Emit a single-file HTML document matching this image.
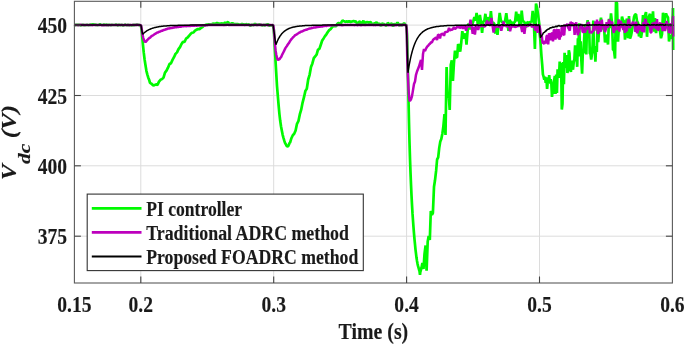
<!DOCTYPE html>
<html><head><meta charset="utf-8"><title>Vdc response</title>
<style>html,body{margin:0;padding:0;background:#fff;overflow:hidden}svg{display:block}text{stroke:#1a1a1a;stroke-width:0.15px}</style></head>
<body>
<svg width="685" height="345" viewBox="0 0 685 345" font-family="'Liberation Serif', serif" font-weight="bold" fill="#1a1a1a">
<rect x="0" y="0" width="685" height="345" fill="#fff"/>
<line x1="140.8" y1="1.3" x2="140.8" y2="283.0" stroke="#dcdcdc" stroke-width="1"/>
<line x1="273.7" y1="1.3" x2="273.7" y2="283.0" stroke="#dcdcdc" stroke-width="1"/>
<line x1="406.6" y1="1.3" x2="406.6" y2="283.0" stroke="#dcdcdc" stroke-width="1"/>
<line x1="539.5" y1="1.3" x2="539.5" y2="283.0" stroke="#dcdcdc" stroke-width="1"/>
<line x1="74.4" y1="25.1" x2="672.4" y2="25.1" stroke="#dcdcdc" stroke-width="1"/>
<line x1="74.4" y1="95.5" x2="672.4" y2="95.5" stroke="#dcdcdc" stroke-width="1"/>
<line x1="74.4" y1="165.8" x2="672.4" y2="165.8" stroke="#dcdcdc" stroke-width="1"/>
<line x1="74.4" y1="236.2" x2="672.4" y2="236.2" stroke="#dcdcdc" stroke-width="1"/>
<path d="M74.0,25.0 L75.0,25.1 L76.0,24.9 L77.0,24.7 L78.0,24.9 L79.0,24.7 L80.0,25.0 L81.0,25.4 L82.0,24.9 L83.0,24.8 L84.0,25.1 L85.0,25.1 L86.0,25.0 L87.0,24.7 L88.0,25.0 L89.0,25.2 L90.0,24.6 L91.0,24.9 L92.0,24.4 L93.0,24.6 L94.0,24.4 L95.0,24.9 L96.0,24.6 L97.0,25.1 L98.0,25.0 L99.0,24.9 L100.0,24.2 L101.0,24.8 L102.0,25.0 L103.0,25.0 L104.0,24.5 L105.0,24.9 L106.0,24.7 L107.0,24.8 L108.0,25.3 L109.0,24.8 L110.0,25.0 L111.0,25.3 L112.0,24.8 L113.0,25.0 L114.0,25.0 L115.0,25.0 L116.0,24.6 L117.0,25.0 L118.0,25.4 L119.0,24.5 L120.0,25.3 L121.0,25.0 L122.0,24.8 L123.0,25.6 L124.0,25.2 L125.0,24.6 L126.0,25.0 L127.0,25.2 L128.0,24.9 L129.0,25.2 L130.0,25.0 L131.0,25.2 L132.0,25.4 L133.0,24.8 L134.0,25.1 L135.0,24.9 L136.0,25.0 L137.0,24.6 L138.0,24.8 L139.0,24.9 L140.0,25.3 L141.0,25.8 L141.9,33.2 L142.8,43.1 L143.7,52.2 L144.6,59.5 L145.5,65.2 L146.4,70.8 L147.3,74.3 L148.2,77.4 L149.1,79.7 L150.0,82.9 L151.5,83.7 L153.0,85.4 L154.5,85.1 L156.0,84.4 L157.5,84.9 L159.0,81.6 L160.5,79.8 L162.0,79.1 L163.5,77.6 L165.0,72.6 L166.5,70.7 L168.0,67.7 L169.5,64.0 L171.0,63.2 L172.5,59.9 L174.0,57.2 L175.5,53.9 L177.0,52.4 L178.5,49.1 L180.0,47.1 L181.5,44.0 L183.0,41.9 L184.5,42.0 L186.0,38.7 L187.5,37.7 L189.0,35.8 L190.5,34.1 L192.0,32.8 L193.5,32.5 L195.0,30.6 L196.5,29.8 L198.0,29.0 L199.5,29.1 L201.0,27.9 L202.5,27.0 L204.0,25.6 L205.0,25.3 L206.0,24.8 L207.0,24.6 L208.0,24.9 L209.0,24.2 L210.0,24.5 L211.0,24.3 L212.0,25.0 L213.0,23.2 L214.0,24.2 L215.0,23.7 L216.0,23.7 L217.0,22.9 L218.0,23.3 L219.0,23.9 L220.0,23.5 L221.0,23.5 L222.0,23.4 L223.0,24.1 L224.0,23.5 L225.0,22.5 L226.0,23.3 L227.0,22.6 L228.0,22.0 L229.0,23.5 L230.0,24.4 L231.0,23.8 L232.0,23.3 L233.0,23.4 L234.0,24.5 L235.0,24.1 L236.0,24.1 L237.0,24.1 L238.0,24.2 L239.0,24.6 L240.0,24.6 L241.0,24.5 L242.0,23.9 L243.0,24.7 L244.0,24.2 L245.0,25.2 L246.0,24.0 L247.0,24.6 L248.0,24.7 L249.0,24.1 L250.0,25.7 L251.0,25.5 L252.0,24.6 L253.0,25.2 L254.0,25.0 L255.0,23.5 L256.0,25.0 L257.0,24.8 L258.0,24.9 L259.0,24.3 L260.0,24.7 L261.0,24.8 L262.0,25.5 L263.0,25.0 L264.0,24.9 L265.0,25.6 L266.0,24.6 L267.0,24.7 L268.0,24.0 L269.0,25.7 L270.0,25.4 L271.0,25.4 L272.0,25.3 L273.0,25.1 L273.8,29.5 L274.6,44.4 L275.4,58.8 L276.2,72.7 L277.0,86.0 L277.8,95.7 L278.6,105.1 L279.4,113.8 L280.2,120.8 L281.0,126.3 L281.8,130.5 L282.6,134.6 L283.4,137.6 L284.2,140.4 L285.0,142.9 L285.8,144.2 L286.6,145.8 L287.4,146.5 L288.2,146.1 L289.0,144.5 L289.8,142.6 L290.0,142.8 L291.4,138.2 L292.8,135.2 L294.2,133.8 L295.6,130.5 L297.0,123.8 L298.4,121.2 L299.8,114.4 L301.2,109.7 L302.6,102.6 L304.0,97.2 L305.4,90.9 L306.8,88.7 L308.2,79.5 L309.6,74.8 L311.0,66.9 L312.4,63.4 L313.8,58.1 L315.2,56.3 L316.6,54.7 L318.0,49.7 L319.4,48.9 L320.8,44.7 L322.2,40.5 L323.6,38.4 L325.0,36.1 L326.4,34.3 L327.8,32.0 L329.2,30.1 L330.6,29.2 L332.0,27.3 L333.4,25.9 L334.8,26.2 L336.2,26.2 L337.0,24.3 L338.1,23.2 L339.2,23.2 L340.3,25.3 L341.4,22.2 L342.5,20.6 L343.6,21.1 L344.7,21.5 L345.8,22.0 L346.9,21.2 L348.0,22.2 L349.1,20.7 L350.2,22.3 L351.3,21.7 L352.4,21.5 L353.5,21.1 L354.6,21.6 L355.7,21.3 L356.8,23.1 L357.9,25.5 L359.0,21.8 L360.1,21.5 L361.2,24.3 L362.3,23.8 L363.4,20.5 L364.5,25.6 L365.6,22.1 L366.7,22.4 L367.8,22.2 L368.9,23.0 L370.0,22.1 L371.1,22.6 L372.2,24.6 L373.3,24.2 L374.4,23.3 L375.5,23.0 L376.6,22.3 L377.7,23.6 L378.8,23.9 L379.9,23.9 L381.0,26.0 L382.1,23.2 L383.2,24.1 L384.3,24.1 L385.4,25.2 L386.5,25.7 L387.6,22.9 L388.7,23.6 L389.8,24.2 L390.9,23.8 L392.0,23.7 L393.1,26.5 L394.2,23.5 L395.3,24.8 L396.4,24.3 L397.5,22.5 L398.6,24.3 L399.7,26.0 L400.8,23.8 L401.9,25.8 L403.0,24.3 L404.1,23.0 L405.2,24.9 L406.0,25.1 L406.5,25.7 L407.0,34.5 L407.5,53.5 L408.0,77.1 L408.5,99.6 L409.0,122.6 L409.5,142.3 L410.0,158.6 L410.5,172.4 L411.0,184.4 L411.5,195.4 L412.0,204.9 L412.5,213.4 L413.0,220.5 L413.5,227.4 L414.0,233.6 L414.5,239.3 L415.0,244.3 L415.5,249.6 L416.0,253.6 L416.5,257.8 L417.0,260.9 L417.5,263.6 L418.0,265.9 L418.5,267.6 L419.0,269.5 L419.5,271.1 L420.0,274.9 L420.3,272.0 L421.4,268.2 L422.4,263.0 L423.5,268.9 L424.5,254.2 L425.6,245.5 L426.6,270.6 L427.7,241.5 L428.7,236.0 L429.8,240.0 L430.8,211.0 L431.9,214.8 L432.9,213.0 L434.0,186.8 L435.0,180.3 L436.1,170.9 L437.1,159.5 L438.2,157.4 L439.2,148.1 L440.3,141.4 L441.3,138.9 L442.4,133.4 L443.4,126.1 L444.5,114.1 L445.5,135.0 L446.6,67.0 L447.6,98.3 L448.7,94.3 L449.7,110.0 L450.8,64.7 L451.8,60.2 L452.9,81.0 L453.9,63.7 L455.0,50.5 L456.0,57.2 L457.1,57.5 L458.1,44.0 L459.2,47.0 L460.2,51.6 L461.3,42.0 L462.3,31.2 L463.4,37.4 L464.4,38.3 L465.5,33.3 L466.5,44.7 L467.6,30.9 L468.6,23.4 L469.7,29.6 L470.0,27.0 L471.1,23.8 L472.2,24.2 L473.3,21.2 L474.4,17.2 L475.5,20.7 L476.6,12.9 L477.7,23.5 L478.8,23.4 L479.9,15.0 L481.0,22.5 L482.1,32.9 L483.2,21.5 L484.3,21.2 L485.4,13.8 L486.5,23.3 L487.6,17.3 L488.7,19.4 L489.8,23.7 L490.9,11.0 L492.0,23.1 L493.1,22.7 L494.2,23.5 L495.3,33.7 L496.4,24.5 L497.5,34.8 L498.6,23.1 L499.7,12.9 L500.8,20.2 L501.9,22.2 L503.0,22.1 L504.1,22.8 L505.2,20.3 L506.3,13.1 L507.4,22.7 L508.5,30.8 L509.6,19.8 L510.7,22.1 L511.8,22.4 L512.9,25.7 L514.0,22.7 L515.1,21.5 L516.2,11.7 L517.3,21.4 L518.4,14.0 L519.5,24.2 L520.6,26.7 L521.7,10.6 L522.8,21.9 L523.9,21.3 L525.0,23.9 L526.1,27.4 L527.2,22.0 L528.3,22.7 L529.4,25.6 L530.5,21.3 L531.6,22.1 L532.7,10.9 L533.8,20.6 L534.9,49.0 L536.0,3.5 L537.1,8.0 L538.2,15.6 L539.3,24.1 L539.4,31.5 L540.1,37.2 L540.8,46.4 L541.5,56.7 L542.2,64.6 L542.9,74.4 L543.6,76.6 L544.3,79.7 L545.0,76.6 L545.7,82.8 L546.4,77.4 L547.1,89.0 L547.8,81.0 L548.5,83.6 L549.2,75.2 L549.9,83.4 L550.6,79.2 L551.3,82.4 L552.0,97.0 L552.7,88.8 L553.4,93.7 L554.1,81.0 L554.8,76.0 L555.5,94.0 L556.2,74.6 L556.9,93.0 L557.6,69.3 L558.3,74.1 L559.0,77.7 L559.7,61.6 L560.4,66.7 L561.1,63.0 L561.8,109.6 L562.5,103.9 L563.2,61.9 L563.9,84.3 L564.6,52.8 L565.3,67.8 L566.0,59.7 L566.7,55.1 L567.4,72.9 L568.1,69.1 L568.8,50.2 L569.5,53.3 L570.2,67.8 L570.9,71.9 L571.6,60.5 L572.3,67.3 L573.0,69.6 L573.7,62.4 L574.4,59.1 L575.1,45.3 L575.8,47.5 L576.5,56.1 L577.2,66.8 L577.9,38.3 L578.6,41.5 L579.3,23.4 L580.0,56.5 L580.7,41.2 L581.4,61.1 L582.1,73.7 L582.8,52.9 L583.5,53.1 L584.2,38.9 L584.9,24.3 L585.6,34.8 L586.3,54.4 L587.0,24.3 L587.7,20.1 L588.4,36.8 L589.1,26.2 L589.8,53.4 L590.5,53.8 L591.2,59.5 L591.9,54.6 L592.6,44.8 L593.3,20.6 L594.0,53.3 L594.7,48.3 L595.4,61.7 L596.1,46.0 L596.8,52.0 L597.5,22.8 L598.2,42.1 L598.9,33.2 L599.6,24.3 L600.0,23.8 L601.0,17.6 L602.0,29.6 L603.0,24.7 L604.0,26.3 L605.0,42.5 L606.0,35.9 L607.0,35.3 L608.0,44.5 L609.0,18.9 L610.0,28.2 L611.0,13.4 L612.0,22.9 L613.0,49.9 L614.0,50.0 L615.0,58.5 L616.0,2.0 L617.0,3.0 L618.0,41.7 L619.0,24.3 L620.0,21.2 L621.0,27.3 L622.0,16.7 L623.0,20.5 L624.0,20.7 L625.0,39.7 L626.0,21.8 L627.0,18.7 L628.0,38.2 L629.0,16.1 L630.0,38.6 L631.0,35.8 L632.0,30.7 L633.0,23.9 L634.0,17.1 L635.0,14.5 L636.0,14.3 L637.0,21.2 L638.0,22.9 L639.0,36.5 L640.0,27.1 L641.0,37.8 L642.0,31.8 L643.0,15.0 L644.0,27.6 L645.0,15.4 L646.0,12.1 L647.0,36.8 L648.0,20.6 L649.0,16.2 L650.0,13.8 L651.0,30.1 L652.0,24.5 L653.0,11.3 L654.0,31.6 L655.0,18.2 L656.0,33.1 L657.0,25.5 L658.0,27.1 L659.0,24.4 L660.0,30.7 L661.0,38.3 L662.0,34.2 L663.0,12.7 L664.0,25.7 L665.0,17.3 L666.0,13.4 L667.0,16.1 L668.0,17.6 L669.0,41.5 L670.0,35.1 L671.0,39.0 L672.0,34.0 L673.0,8.0 L673.2,50.0" fill="none" stroke="#00fa00" stroke-width="2.7" stroke-linejoin="bevel" stroke-linecap="butt"/>
<path d="M74.0,24.8 L74.7,24.9 L75.4,25.1 L76.1,25.0 L76.8,25.1 L77.5,25.0 L78.2,25.3 L78.9,24.9 L79.6,25.0 L80.3,24.8 L81.0,24.8 L81.7,25.2 L82.4,24.9 L83.1,25.1 L83.8,25.0 L84.5,24.9 L85.2,25.0 L85.9,24.9 L86.6,24.9 L87.3,25.1 L88.0,25.1 L88.7,24.9 L89.4,24.9 L90.1,25.0 L90.8,25.0 L91.5,25.1 L92.2,25.3 L92.9,25.1 L93.6,25.0 L94.3,25.0 L95.0,24.9 L95.7,24.9 L96.4,24.9 L97.1,25.0 L97.8,24.9 L98.5,25.1 L99.2,25.0 L99.9,25.0 L100.6,24.9 L101.3,25.2 L102.0,25.1 L102.7,25.2 L103.4,25.1 L104.1,25.2 L104.8,25.0 L105.5,25.1 L106.2,25.3 L106.9,24.9 L107.6,25.1 L108.3,25.2 L109.0,25.1 L109.7,25.1 L110.4,25.2 L111.1,24.9 L111.8,25.1 L112.5,24.9 L113.2,24.9 L113.9,24.9 L114.6,25.0 L115.3,25.0 L116.0,25.1 L116.7,24.8 L117.4,25.2 L118.1,25.1 L118.8,25.1 L119.5,25.0 L120.2,25.0 L120.9,25.1 L121.6,25.1 L122.3,24.8 L123.0,25.1 L123.7,25.4 L124.4,24.8 L125.1,25.1 L125.8,25.0 L126.5,25.0 L127.2,25.2 L127.9,24.9 L128.6,25.0 L129.3,25.2 L130.0,25.0 L130.7,24.9 L131.4,25.0 L132.1,24.9 L132.8,25.2 L133.5,24.9 L134.2,25.1 L134.9,24.8 L135.6,25.1 L136.3,25.0 L137.0,24.7 L137.7,25.0 L138.4,24.9 L139.1,24.9 L139.8,25.2 L140.5,24.9 L141.2,25.8 L141.9,30.3 L142.6,35.1 L143.3,38.1 L144.0,40.0 L144.7,41.3 L145.4,42.0 L146.1,41.6 L146.8,40.6 L147.5,39.8 L148.2,39.1 L148.9,38.4 L149.6,37.8 L150.3,37.5 L151.0,36.7 L151.7,36.0 L152.4,35.6 L153.1,35.3 L153.8,34.8 L154.5,34.3 L155.2,33.8 L155.9,33.4 L156.6,32.9 L157.3,32.5 L158.0,32.4 L158.7,31.9 L159.4,31.7 L160.1,31.5 L160.8,31.2 L161.5,30.8 L162.2,30.8 L162.9,30.4 L163.6,30.0 L164.3,29.9 L165.0,29.7 L165.7,29.3 L166.4,29.2 L167.1,29.0 L167.8,28.6 L168.5,28.6 L169.2,28.4 L169.9,28.3 L170.6,28.0 L171.3,28.0 L172.0,27.9 L172.7,27.8 L173.4,27.5 L174.1,27.6 L174.8,27.2 L175.5,27.3 L176.2,27.3 L176.9,27.0 L177.6,26.9 L178.3,27.0 L179.0,26.8 L179.7,26.7 L180.4,26.7 L181.1,26.7 L181.8,26.2 L182.5,26.3 L183.2,26.2 L183.9,26.2 L184.6,26.1 L185.3,26.1 L186.0,26.2 L186.7,26.0 L187.4,26.0 L188.1,26.0 L188.8,25.9 L189.5,25.9 L190.2,26.1 L190.9,25.9 L191.6,25.7 L192.3,25.7 L193.0,25.6 L193.7,25.7 L194.4,25.8 L195.1,25.5 L195.8,25.6 L196.5,25.7 L197.2,25.5 L197.9,25.5 L198.6,25.4 L199.3,25.4 L200.0,25.4 L200.7,25.7 L201.4,25.4 L202.1,25.3 L202.8,25.3 L203.5,25.3 L204.2,25.4 L204.9,25.3 L205.6,25.5 L206.3,25.2 L207.0,25.3 L207.7,25.1 L208.4,25.1 L209.1,24.8 L209.8,25.0 L210.5,25.0 L211.2,25.0 L211.9,24.7 L212.6,25.1 L213.3,25.0 L214.0,24.9 L214.7,25.0 L215.4,25.0 L216.1,25.0 L216.8,24.8 L217.5,24.9 L218.2,25.0 L218.9,25.0 L219.6,25.0 L220.3,24.9 L221.0,24.9 L221.7,25.0 L222.4,25.1 L223.1,24.9 L223.8,25.2 L224.5,25.1 L225.2,24.9 L225.9,25.1 L226.6,24.8 L227.3,24.8 L228.0,24.8 L228.7,25.0 L229.4,25.0 L230.1,24.9 L230.8,25.0 L231.5,24.7 L232.2,25.1 L232.9,24.8 L233.6,24.9 L234.3,25.0 L235.0,24.9 L235.7,24.8 L236.4,24.9 L237.1,25.0 L237.8,25.1 L238.5,25.1 L239.2,24.9 L239.9,24.9 L240.6,24.9 L241.3,25.1 L242.0,24.8 L242.7,25.1 L243.4,24.9 L244.1,24.9 L244.8,25.0 L245.5,25.1 L246.2,25.0 L246.9,25.1 L247.6,25.0 L248.3,25.1 L249.0,25.1 L249.7,25.0 L250.4,25.2 L251.1,25.0 L251.8,25.0 L252.5,24.9 L253.2,25.0 L253.9,25.1 L254.6,24.8 L255.3,25.1 L256.0,25.0 L256.7,25.0 L257.4,24.7 L258.1,25.0 L258.8,25.1 L259.5,24.9 L260.2,25.0 L260.9,24.7 L261.6,25.1 L262.3,24.9 L263.0,25.1 L263.7,24.8 L264.4,25.1 L265.1,25.0 L265.8,25.1 L266.5,24.9 L267.2,24.9 L267.9,25.3 L268.6,24.9 L269.3,24.9 L270.0,25.0 L270.7,24.9 L271.4,25.1 L272.1,25.2 L272.8,24.9 L273.5,26.2 L274.2,33.6 L274.9,43.8 L275.6,50.7 L276.3,54.8 L277.0,57.8 L277.7,59.7 L278.4,59.7 L279.1,59.3 L279.8,58.9 L280.5,57.7 L281.2,56.9 L281.9,55.3 L282.6,53.8 L283.3,52.5 L284.0,51.2 L284.7,49.6 L285.4,48.1 L286.1,47.1 L286.8,46.2 L287.5,45.0 L288.2,43.9 L288.9,43.1 L289.6,41.9 L290.3,40.7 L291.0,39.8 L291.7,38.8 L292.4,38.1 L293.1,37.2 L293.8,36.6 L294.5,35.9 L295.2,35.1 L295.9,34.8 L296.6,34.4 L297.3,33.9 L298.0,33.5 L298.7,33.0 L299.4,32.5 L300.1,32.4 L300.8,31.8 L301.5,31.4 L302.2,31.5 L302.9,31.0 L303.6,30.7 L304.3,30.3 L305.0,30.1 L305.7,29.8 L306.4,29.7 L307.1,29.5 L307.8,28.9 L308.5,29.1 L309.2,28.6 L309.9,28.4 L310.6,28.4 L311.3,28.2 L312.0,27.8 L312.7,28.1 L313.4,27.6 L314.1,27.6 L314.8,27.5 L315.5,27.5 L316.2,27.1 L316.9,27.2 L317.6,26.9 L318.3,27.0 L319.0,26.6 L319.7,26.6 L320.4,26.7 L321.1,26.4 L321.8,26.3 L322.5,26.5 L323.2,26.2 L323.9,25.9 L324.6,26.0 L325.3,25.7 L326.0,25.9 L326.7,25.9 L327.4,25.6 L328.1,25.5 L328.8,25.6 L329.5,25.5 L330.2,25.4 L330.9,25.5 L331.6,25.2 L332.3,25.3 L333.0,25.3 L333.7,25.3 L334.4,25.3 L335.1,25.1 L335.8,25.3 L336.5,25.2 L337.2,25.1 L337.9,25.0 L338.6,25.0 L339.3,25.1 L340.0,25.0 L340.7,25.1 L341.4,25.2 L342.1,25.1 L342.8,25.2 L343.5,25.0 L344.2,24.9 L344.9,25.1 L345.6,25.0 L346.3,25.1 L347.0,25.0 L347.7,25.1 L348.4,25.1 L349.1,25.1 L349.8,25.1 L350.5,25.0 L351.2,25.0 L351.9,25.0 L352.6,25.1 L353.3,24.9 L354.0,25.2 L354.7,25.0 L355.4,25.1 L356.1,25.0 L356.8,25.0 L357.5,25.2 L358.2,25.0 L358.9,24.8 L359.6,24.9 L360.3,25.0 L361.0,25.3 L361.7,25.0 L362.4,25.1 L363.1,24.9 L363.8,25.0 L364.5,25.1 L365.2,25.2 L365.9,24.9 L366.6,25.1 L367.3,25.0 L368.0,24.9 L368.7,25.0 L369.4,25.0 L370.1,24.7 L370.8,25.1 L371.5,25.1 L372.2,24.9 L372.9,24.8 L373.6,25.2 L374.3,25.0 L375.0,25.1 L375.7,25.2 L376.4,24.9 L377.1,25.1 L377.8,25.0 L378.5,25.0 L379.2,25.0 L379.9,25.0 L380.6,25.1 L381.3,25.0 L382.0,25.0 L382.7,25.0 L383.4,25.0 L384.1,24.9 L384.8,24.9 L385.5,25.0 L386.2,24.9 L386.9,25.0 L387.6,24.9 L388.3,25.2 L389.0,25.2 L389.7,25.1 L390.4,25.0 L391.1,25.3 L391.8,25.0 L392.5,25.0 L393.2,25.0 L393.9,25.0 L394.6,25.2 L395.3,25.0 L396.0,25.3 L396.7,24.9 L397.4,25.1 L398.1,24.9 L398.8,25.2 L399.5,25.0 L400.2,25.0 L400.9,25.1 L401.6,25.2 L402.3,24.9 L403.0,25.0 L403.7,24.8 L404.4,25.0 L405.1,25.0 L405.8,25.0 L406.0,24.9 L406.4,25.5 L406.8,33.2 L407.2,56.2 L407.6,68.0 L408.0,77.9 L408.4,86.3 L408.8,93.2 L409.2,98.1 L409.6,100.7 L410.0,100.9 L411.0,99.3 L412.0,96.1 L413.0,90.1 L414.0,84.0 L415.0,81.5 L416.0,74.8 L417.0,71.5 L418.0,69.0 L419.0,66.5 L420.0,63.1 L421.0,60.0 L422.0,70.0 L423.0,53.9 L424.0,49.1 L425.0,51.1 L426.0,48.6 L427.0,46.8 L428.0,45.9 L429.0,44.5 L430.0,43.7 L431.0,42.3 L432.0,42.4 L433.0,39.9 L434.0,39.0 L435.0,38.3 L436.0,37.5 L437.0,39.9 L438.0,34.8 L439.0,35.0 L440.0,38.4 L441.0,33.9 L442.0,34.3 L443.0,33.4 L444.0,35.9 L445.0,32.2 L446.0,32.0 L447.0,31.8 L448.0,31.4 L449.0,27.9 L450.0,30.5 L451.0,29.6 L452.0,29.9 L453.0,28.8 L454.0,27.3 L455.0,29.0 L456.0,28.0 L457.0,26.9 L458.0,27.2 L459.0,26.5 L460.0,28.1 L461.0,27.0 L462.0,25.6 L463.0,28.8 L464.0,26.1 L465.0,26.3 L466.1,30.8 L467.2,25.7 L468.3,26.4 L469.4,26.4 L470.5,19.6 L471.6,26.0 L472.7,33.9 L473.8,26.7 L474.9,34.5 L476.0,25.8 L477.1,24.7 L478.2,30.0 L479.3,25.2 L480.4,26.4 L481.5,25.7 L482.6,25.2 L483.7,26.5 L484.8,26.4 L485.9,25.3 L487.0,20.6 L488.1,25.6 L489.2,21.8 L490.3,25.9 L491.4,18.0 L492.5,25.4 L493.6,32.6 L494.7,27.0 L495.8,27.0 L496.9,25.6 L498.0,27.1 L499.1,25.8 L500.2,26.1 L501.3,30.8 L502.4,26.0 L503.5,21.5 L504.6,26.0 L505.7,24.8 L506.8,26.8 L507.9,25.5 L509.0,25.6 L510.1,31.2 L511.2,26.6 L512.3,26.5 L513.4,26.4 L514.5,26.6 L515.6,27.2 L516.7,25.8 L517.8,26.6 L518.9,25.2 L520.0,25.5 L521.1,26.6 L522.2,32.0 L523.3,24.7 L524.4,33.8 L525.5,25.7 L526.6,25.1 L527.7,26.1 L528.8,25.5 L529.9,24.5 L531.0,24.9 L532.1,27.2 L533.2,24.6 L534.3,26.0 L535.4,30.6 L536.5,26.3 L537.6,32.8 L538.7,25.5 L539.4,25.3 L540.2,29.2 L541.0,38.1 L541.8,36.0 L542.6,43.1 L543.4,42.9 L544.2,43.9 L545.0,40.7 L545.8,43.4 L546.6,36.1 L547.4,35.6 L548.2,44.5 L549.0,33.3 L549.8,35.4 L550.6,40.4 L551.4,33.4 L552.2,33.3 L553.0,41.4 L553.8,30.0 L554.6,30.0 L555.4,39.6 L556.2,29.7 L557.0,30.1 L557.8,38.4 L558.6,29.2 L559.4,39.6 L560.2,36.4 L561.0,36.5 L561.8,26.6 L562.6,26.2 L563.4,34.2 L564.2,35.2 L565.0,25.6 L565.8,25.1 L566.6,25.5 L567.4,23.7 L568.2,27.8 L569.0,28.9 L569.8,30.7 L570.6,21.8 L571.4,23.8 L572.2,22.5 L573.0,24.7 L573.8,23.3 L574.6,34.9 L575.4,25.9 L576.2,22.3 L577.0,30.3 L577.8,35.1 L578.6,32.1 L579.4,29.7 L580.2,25.4 L581.0,25.7 L581.8,24.2 L582.6,32.0 L583.4,31.9 L584.2,26.8 L585.0,32.7 L585.8,29.3 L586.6,29.8 L587.4,23.3 L588.2,22.8 L589.0,22.6 L589.8,33.2 L590.6,31.4 L591.4,33.0 L592.2,31.7 L593.0,31.4 L593.8,25.5 L594.6,30.7 L595.4,21.4 L596.2,28.9 L597.0,19.5 L597.8,33.8 L598.6,32.4 L599.4,21.4 L600.2,30.5 L601.0,31.3 L601.8,19.7 L602.6,27.2 L603.4,25.1 L604.2,28.0 L605.0,32.1 L605.8,29.5 L606.6,22.2 L607.4,26.9 L608.2,27.0 L609.0,19.6 L609.8,21.2 L610.6,24.2 L611.4,21.8 L612.2,22.6 L613.0,28.7 L613.8,32.9 L614.6,25.5 L615.4,28.2 L616.2,29.9 L617.0,28.6 L617.8,28.4 L618.6,19.4 L619.4,31.6 L620.2,21.5 L621.0,21.8 L621.8,26.1 L622.6,27.3 L623.4,29.9 L624.2,23.3 L625.0,32.8 L625.8,28.0 L626.6,31.3 L627.4,25.7 L628.2,20.3 L629.0,19.5 L629.8,28.1 L630.6,25.0 L631.4,25.2 L632.2,23.7 L633.0,21.7 L633.8,25.6 L634.6,22.7 L635.4,32.0 L636.2,21.7 L637.0,33.2 L637.8,31.6 L638.6,24.4 L639.4,30.2 L640.2,27.2 L641.0,25.5 L641.8,30.8 L642.6,31.1 L643.4,22.0 L644.2,32.3 L645.0,19.7 L645.8,19.3 L646.6,25.8 L647.4,23.3 L648.2,24.9 L649.0,25.7 L649.8,25.6 L650.6,32.4 L651.4,32.5 L652.2,23.9 L653.0,23.1 L653.8,28.4 L654.6,21.9 L655.4,24.6 L656.2,29.4 L657.0,19.2 L657.8,30.3 L658.6,29.7 L659.4,24.4 L660.2,22.5 L661.0,26.6 L661.8,23.2 L662.6,31.1 L663.4,27.4 L664.2,23.3 L665.0,30.9 L665.8,27.7 L666.6,20.9 L667.4,24.8 L668.2,25.9 L669.0,33.1 L669.8,23.5 L670.6,25.3 L671.4,33.6 L672.2,25.0 L673.0,16.0 L673.2,36.5" fill="none" stroke="#bd00bd" stroke-width="2.5" stroke-linejoin="bevel"/>
<path d="M74.0,25.0 L74.5,25.0 L75.0,25.0 L75.5,25.0 L76.0,25.0 L76.5,25.0 L77.0,25.0 L77.5,25.0 L78.0,25.0 L78.5,25.0 L79.0,25.0 L79.5,25.0 L80.0,25.0 L80.5,25.0 L81.0,25.0 L81.5,25.0 L82.0,25.0 L82.5,25.0 L83.0,25.0 L83.5,25.0 L84.0,25.0 L84.5,25.0 L85.0,25.0 L85.5,25.0 L86.0,25.0 L86.5,25.0 L87.0,25.0 L87.5,25.0 L88.0,25.0 L88.5,25.0 L89.0,25.0 L89.5,25.0 L90.0,25.0 L90.5,25.0 L91.0,25.0 L91.5,25.0 L92.0,25.0 L92.5,25.0 L93.0,25.0 L93.5,25.0 L94.0,25.0 L94.5,25.0 L95.0,25.0 L95.5,25.0 L96.0,25.0 L96.5,25.0 L97.0,25.0 L97.5,25.0 L98.0,25.0 L98.5,25.0 L99.0,25.0 L99.5,25.0 L100.0,25.0 L100.5,25.0 L101.0,25.0 L101.5,25.0 L102.0,25.0 L102.5,25.0 L103.0,25.0 L103.5,25.0 L104.0,25.0 L104.5,25.0 L105.0,25.0 L105.5,25.0 L106.0,25.0 L106.5,25.0 L107.0,25.0 L107.5,25.0 L108.0,25.0 L108.5,25.0 L109.0,25.0 L109.5,25.0 L110.0,25.0 L110.5,25.0 L111.0,25.0 L111.5,25.0 L112.0,25.0 L112.5,25.0 L113.0,25.0 L113.5,25.0 L114.0,25.0 L114.5,25.0 L115.0,25.0 L115.5,25.0 L116.0,25.0 L116.5,25.0 L117.0,25.0 L117.5,25.0 L118.0,25.0 L118.5,25.0 L119.0,25.0 L119.5,25.0 L120.0,25.0 L120.5,25.0 L121.0,25.0 L121.5,25.0 L122.0,25.0 L122.5,25.0 L123.0,25.0 L123.5,25.0 L124.0,25.0 L124.5,25.0 L125.0,25.0 L125.5,25.0 L126.0,25.0 L126.5,25.0 L127.0,25.0 L127.5,25.0 L128.0,25.0 L128.5,25.0 L129.0,25.0 L129.5,25.0 L130.0,25.0 L130.5,25.0 L131.0,25.0 L131.5,25.0 L132.0,25.0 L132.5,25.0 L133.0,25.0 L133.5,25.0 L134.0,25.0 L134.5,25.0 L135.0,25.0 L135.5,25.0 L136.0,25.0 L136.5,25.0 L137.0,25.0 L137.5,25.0 L138.0,25.0 L138.5,25.0 L139.0,25.0 L139.5,25.0 L140.0,25.0 L140.5,25.0 L141.0,25.5 L141.5,28.3 L142.0,31.0 L142.5,33.8 L143.0,33.9 L143.5,33.4 L144.0,33.0 L144.5,32.5 L145.0,32.1 L145.5,31.8 L146.0,31.4 L146.5,31.1 L147.0,30.7 L147.5,30.4 L148.0,30.2 L148.5,29.9 L149.0,29.6 L149.5,29.4 L150.0,29.2 L150.5,29.0 L151.0,28.8 L151.5,28.6 L152.0,28.4 L152.5,28.2 L153.0,28.1 L153.5,27.9 L154.0,27.8 L154.5,27.6 L155.0,27.5 L155.5,27.4 L156.0,27.3 L156.5,27.2 L157.0,27.1 L157.5,27.0 L158.0,26.9 L158.5,26.8 L159.0,26.7 L159.5,26.6 L160.0,26.5 L160.5,26.5 L161.0,26.4 L161.5,26.3 L162.0,26.3 L162.5,26.2 L163.0,26.2 L163.5,26.1 L164.0,26.1 L164.5,26.0 L165.0,26.0 L165.5,25.9 L166.0,25.9 L166.5,25.9 L167.0,25.8 L167.5,25.8 L168.0,25.8 L168.5,25.7 L169.0,25.7 L169.5,25.7 L170.0,25.6 L170.5,25.6 L171.0,25.6 L171.5,25.6 L172.0,25.5 L172.5,25.5 L173.0,25.5 L173.5,25.5 L174.0,25.5 L174.5,25.4 L175.0,25.4 L175.5,25.4 L176.0,25.4 L176.5,25.4 L177.0,25.4 L177.5,25.4 L178.0,25.3 L178.5,25.3 L179.0,25.3 L179.5,25.3 L180.0,25.3 L180.5,25.3 L181.0,25.3 L181.5,25.3 L182.0,25.3 L182.5,25.2 L183.0,25.2 L183.5,25.2 L184.0,25.2 L184.5,25.2 L185.0,25.2 L185.5,25.2 L186.0,25.2 L186.5,25.2 L187.0,25.2 L187.5,25.2 L188.0,25.2 L188.5,25.2 L189.0,25.2 L189.5,25.2 L190.0,25.1 L190.5,25.1 L191.0,25.1 L191.5,25.1 L192.0,25.1 L192.5,25.1 L193.0,25.1 L193.5,25.1 L194.0,25.1 L194.5,25.1 L195.0,25.1 L195.5,25.1 L196.0,25.1 L196.5,25.1 L197.0,25.1 L197.5,25.1 L198.0,25.1 L198.5,25.1 L199.0,25.1 L199.5,25.1 L200.0,25.1 L200.5,25.1 L201.0,25.1 L201.5,25.1 L202.0,25.1 L202.5,25.1 L203.0,25.1 L203.5,25.1 L204.0,25.1 L204.5,25.1 L205.0,25.1 L205.5,25.1 L206.0,25.1 L206.5,25.1 L207.0,25.1 L207.5,25.0 L208.0,25.0 L208.5,25.0 L209.0,25.0 L209.5,25.0 L210.0,25.0 L210.5,25.0 L211.0,25.0 L211.5,25.0 L212.0,25.0 L212.5,25.0 L213.0,25.0 L213.5,25.0 L214.0,25.0 L214.5,25.0 L215.0,25.0 L215.5,25.0 L216.0,25.0 L216.5,25.0 L217.0,25.0 L217.5,25.0 L218.0,25.0 L218.5,25.0 L219.0,25.0 L219.5,25.0 L220.0,25.0 L220.5,25.0 L221.0,25.0 L221.5,25.0 L222.0,25.0 L222.5,25.0 L223.0,25.0 L223.5,25.0 L224.0,25.0 L224.5,25.0 L225.0,25.0 L225.5,25.0 L226.0,25.0 L226.5,25.0 L227.0,25.0 L227.5,25.0 L228.0,25.0 L228.5,25.0 L229.0,25.0 L229.5,25.0 L230.0,25.0 L230.5,25.0 L231.0,25.0 L231.5,25.0 L232.0,25.0 L232.5,25.0 L233.0,25.0 L233.5,25.0 L234.0,25.0 L234.5,25.0 L235.0,25.0 L235.5,25.0 L236.0,25.0 L236.5,25.0 L237.0,25.0 L237.5,25.0 L238.0,25.0 L238.5,25.0 L239.0,25.0 L239.5,25.0 L240.0,25.0 L240.5,25.0 L241.0,25.0 L241.5,25.0 L242.0,25.0 L242.5,25.0 L243.0,25.0 L243.5,25.0 L244.0,25.0 L244.5,25.0 L245.0,25.0 L245.5,25.0 L246.0,25.0 L246.5,25.0 L247.0,25.0 L247.5,25.0 L248.0,25.0 L248.5,25.0 L249.0,25.0 L249.5,25.0 L250.0,25.0 L250.5,25.0 L251.0,25.0 L251.5,25.0 L252.0,25.0 L252.5,25.0 L253.0,25.0 L253.5,25.0 L254.0,25.0 L254.5,25.0 L255.0,25.0 L255.5,25.0 L256.0,25.0 L256.5,25.0 L257.0,25.0 L257.5,25.0 L258.0,25.0 L258.5,25.0 L259.0,25.0 L259.5,25.0 L260.0,25.0 L260.5,25.0 L261.0,25.0 L261.5,25.0 L262.0,25.0 L262.5,25.0 L263.0,25.0 L263.5,25.0 L264.0,25.0 L264.5,25.0 L265.0,25.0 L265.5,25.0 L266.0,25.0 L266.5,25.0 L267.0,25.0 L267.5,25.0 L268.0,25.0 L268.5,25.0 L269.0,25.0 L269.5,25.0 L270.0,25.0 L270.5,25.0 L271.0,25.0 L271.5,25.0 L272.0,25.0 L272.5,25.0 L273.0,25.0 L273.5,28.0 L274.0,31.7 L274.5,35.4 L275.0,39.1 L275.5,42.8 L276.0,44.4 L276.5,43.1 L277.0,41.9 L277.5,40.8 L278.0,39.7 L278.5,38.7 L279.0,37.8 L279.5,37.0 L280.0,36.2 L280.5,35.4 L281.0,34.8 L281.5,34.1 L282.0,33.5 L282.5,33.0 L283.0,32.5 L283.5,32.0 L284.0,31.6 L284.5,31.2 L285.0,30.8 L285.5,30.4 L286.0,30.1 L286.5,29.8 L287.0,29.5 L287.5,29.2 L288.0,29.0 L288.5,28.7 L289.0,28.5 L289.5,28.3 L290.0,28.1 L290.5,27.9 L291.0,27.8 L291.5,27.6 L292.0,27.5 L292.5,27.3 L293.0,27.2 L293.5,27.1 L294.0,27.0 L294.5,26.9 L295.0,26.8 L295.5,26.7 L296.0,26.6 L296.5,26.5 L297.0,26.4 L297.5,26.3 L298.0,26.3 L298.5,26.2 L299.0,26.2 L299.5,26.1 L300.0,26.0 L300.5,26.0 L301.0,25.9 L301.5,25.9 L302.0,25.9 L302.5,25.8 L303.0,25.8 L303.5,25.7 L304.0,25.7 L304.5,25.7 L305.0,25.6 L305.5,25.6 L306.0,25.6 L306.5,25.6 L307.0,25.5 L307.5,25.5 L308.0,25.5 L308.5,25.5 L309.0,25.4 L309.5,25.4 L310.0,25.4 L310.5,25.4 L311.0,25.4 L311.5,25.4 L312.0,25.3 L312.5,25.3 L313.0,25.3 L313.5,25.3 L314.0,25.3 L314.5,25.3 L315.0,25.3 L315.5,25.3 L316.0,25.2 L316.5,25.2 L317.0,25.2 L317.5,25.2 L318.0,25.2 L318.5,25.2 L319.0,25.2 L319.5,25.2 L320.0,25.2 L320.5,25.2 L321.0,25.2 L321.5,25.2 L322.0,25.2 L322.5,25.1 L323.0,25.1 L323.5,25.1 L324.0,25.1 L324.5,25.1 L325.0,25.1 L325.5,25.1 L326.0,25.1 L326.5,25.1 L327.0,25.1 L327.5,25.1 L328.0,25.1 L328.5,25.1 L329.0,25.1 L329.5,25.1 L330.0,25.1 L330.5,25.1 L331.0,25.1 L331.5,25.1 L332.0,25.1 L332.5,25.1 L333.0,25.1 L333.5,25.1 L334.0,25.1 L334.5,25.1 L335.0,25.1 L335.5,25.1 L336.0,25.1 L336.5,25.1 L337.0,25.0 L337.5,25.0 L338.0,25.0 L338.5,25.0 L339.0,25.0 L339.5,25.0 L340.0,25.0 L340.5,25.0 L341.0,25.0 L341.5,25.0 L342.0,25.0 L342.5,25.0 L343.0,25.0 L343.5,25.0 L344.0,25.0 L344.5,25.0 L345.0,25.0 L345.5,25.0 L346.0,25.0 L346.5,25.0 L347.0,25.0 L347.5,25.0 L348.0,25.0 L348.5,25.0 L349.0,25.0 L349.5,25.0 L350.0,25.0 L350.5,25.0 L351.0,25.0 L351.5,25.0 L352.0,25.0 L352.5,25.0 L353.0,25.0 L353.5,25.0 L354.0,25.0 L354.5,25.0 L355.0,25.0 L355.5,25.0 L356.0,25.0 L356.5,25.0 L357.0,25.0 L357.5,25.0 L358.0,25.0 L358.5,25.0 L359.0,25.0 L359.5,25.0 L360.0,25.0 L360.5,25.0 L361.0,25.0 L361.5,25.0 L362.0,25.0 L362.5,25.0 L363.0,25.0 L363.5,25.0 L364.0,25.0 L364.5,25.0 L365.0,25.0 L365.5,25.0 L366.0,25.0 L366.5,25.0 L367.0,25.0 L367.5,25.0 L368.0,25.0 L368.5,25.0 L369.0,25.0 L369.5,25.0 L370.0,25.0 L370.5,25.0 L371.0,25.0 L371.5,25.0 L372.0,25.0 L372.5,25.0 L373.0,25.0 L373.5,25.0 L374.0,25.0 L374.5,25.0 L375.0,25.0 L375.5,25.0 L376.0,25.0 L376.5,25.0 L377.0,25.0 L377.5,25.0 L378.0,25.0 L378.5,25.0 L379.0,25.0 L379.5,25.0 L380.0,25.0 L380.5,25.0 L381.0,25.0 L381.5,25.0 L382.0,25.0 L382.5,25.0 L383.0,25.0 L383.5,25.0 L384.0,25.0 L384.5,25.0 L385.0,25.0 L385.5,25.0 L386.0,25.0 L386.5,25.0 L387.0,25.0 L387.5,25.0 L388.0,25.0 L388.5,25.0 L389.0,25.0 L389.5,25.0 L390.0,25.0 L390.5,25.0 L391.0,25.0 L391.5,25.0 L392.0,25.0 L392.5,25.0 L393.0,25.0 L393.5,25.0 L394.0,25.0 L394.5,25.0 L395.0,25.0 L395.5,25.0 L396.0,25.0 L396.5,25.0 L397.0,25.0 L397.5,25.0 L398.0,25.0 L398.5,25.0 L399.0,25.0 L399.5,25.0 L400.0,25.0 L400.5,25.0 L401.0,25.0 L401.5,25.0 L402.0,25.0 L402.5,25.0 L403.0,25.0 L403.5,25.0 L404.0,25.0 L404.5,25.0 L405.0,25.0 L405.5,25.0 L406.0,25.0 L406.5,28.2 L407.0,44.2 L407.5,60.2 L408.0,72.3 L408.5,69.1 L409.0,66.1 L409.5,63.3 L410.0,60.8 L410.5,58.4 L411.0,56.2 L411.5,54.1 L412.0,52.2 L412.5,50.4 L413.0,48.7 L413.5,47.2 L414.0,45.8 L414.5,44.4 L415.0,43.2 L415.5,42.0 L416.0,41.0 L416.5,40.0 L417.0,39.0 L417.5,38.2 L418.0,37.4 L418.5,36.6 L419.0,35.9 L419.5,35.2 L420.0,34.6 L420.5,34.1 L421.0,33.5 L421.5,33.0 L422.0,32.6 L422.5,32.1 L423.0,31.7 L423.5,31.3 L424.0,31.0 L424.5,30.7 L425.0,30.3 L425.5,30.0 L426.0,29.8 L426.5,29.5 L427.0,29.3 L427.5,29.0 L428.0,28.8 L428.5,28.6 L429.0,28.4 L429.5,28.3 L430.0,28.1 L430.5,27.9 L431.0,27.8 L431.5,27.7 L432.0,27.5 L432.5,27.4 L433.0,27.3 L433.5,27.2 L434.0,27.1 L434.5,27.0 L435.0,26.9 L435.5,26.8 L436.0,26.7 L436.5,26.6 L437.0,26.6 L437.5,26.5 L438.0,26.4 L438.5,26.4 L439.0,26.3 L439.5,26.2 L440.0,26.2 L440.5,26.1 L441.0,26.1 L441.5,26.0 L442.0,26.0 L442.5,25.9 L443.0,25.9 L443.5,25.9 L444.0,25.8 L444.5,25.8 L445.0,25.8 L445.5,25.7 L446.0,25.7 L446.5,25.7 L447.0,25.6 L447.5,25.6 L448.0,25.6 L448.5,25.6 L449.0,25.6 L449.5,25.5 L450.0,25.5 L450.5,25.5 L451.0,25.5 L451.5,25.5 L452.0,25.4 L452.5,25.4 L453.0,25.4 L453.5,25.4 L454.0,25.4 L454.5,25.4 L455.0,25.3 L455.5,25.3 L456.0,25.3 L456.5,25.3 L457.0,25.3 L457.5,25.3 L458.0,25.3 L458.5,25.3 L459.0,25.3 L459.5,25.2 L460.0,25.2 L460.5,25.2 L461.0,25.2 L461.5,25.2 L462.0,25.2 L462.5,25.2 L463.0,25.2 L463.5,25.2 L464.0,25.2 L464.5,25.2 L465.0,25.2 L465.5,25.5 L466.0,25.3 L466.5,25.1 L467.0,24.9 L467.5,24.9 L468.0,25.0 L468.5,25.2 L469.0,25.2 L469.5,25.1 L470.0,25.1 L470.5,25.3 L471.0,25.2 L471.5,25.2 L472.0,25.2 L472.5,25.0 L473.0,24.8 L473.5,25.2 L474.0,25.2 L474.5,25.0 L475.0,25.0 L475.5,25.6 L476.0,24.9 L476.5,25.0 L477.0,25.1 L477.5,24.8 L478.0,25.1 L478.5,25.5 L479.0,25.3 L479.5,25.2 L480.0,25.2 L480.5,25.1 L481.0,25.3 L481.5,25.0 L482.0,24.9 L482.5,25.1 L483.0,25.3 L483.5,25.1 L484.0,25.2 L484.5,24.5 L485.0,25.3 L485.5,25.6 L486.0,25.4 L486.5,25.0 L487.0,24.8 L487.5,25.1 L488.0,24.8 L488.5,25.2 L489.0,24.9 L489.5,25.3 L490.0,25.4 L490.5,24.5 L491.0,25.1 L491.5,24.8 L492.0,24.7 L492.5,24.9 L493.0,25.0 L493.5,25.3 L494.0,24.6 L494.5,25.3 L495.0,25.5 L495.5,25.2 L496.0,25.2 L496.5,25.0 L497.0,24.7 L497.5,25.1 L498.0,25.1 L498.5,25.2 L499.0,25.7 L499.5,25.2 L500.0,25.1 L500.5,25.4 L501.0,24.7 L501.5,24.7 L502.0,24.9 L502.5,24.8 L503.0,25.2 L503.5,24.9 L504.0,25.4 L504.5,25.4 L505.0,25.2 L505.5,24.9 L506.0,25.2 L506.5,25.2 L507.0,24.7 L507.5,25.1 L508.0,25.2 L508.5,25.1 L509.0,25.4 L509.5,25.3 L510.0,24.8 L510.5,25.0 L511.0,24.8 L511.5,25.2 L512.0,24.8 L512.5,25.2 L513.0,25.1 L513.5,25.2 L514.0,25.0 L514.5,24.6 L515.0,25.4 L515.5,25.0 L516.0,25.3 L516.5,25.1 L517.0,25.2 L517.5,25.5 L518.0,25.1 L518.5,25.4 L519.0,24.6 L519.5,25.2 L520.0,24.9 L520.5,25.0 L521.0,25.0 L521.5,25.1 L522.0,25.4 L522.5,24.5 L523.0,25.0 L523.5,24.8 L524.0,25.3 L524.5,24.9 L525.0,25.1 L525.5,24.9 L526.0,25.2 L526.5,25.3 L527.0,24.9 L527.5,25.0 L528.0,24.6 L528.5,25.1 L529.0,25.2 L529.5,24.9 L530.0,25.3 L530.5,24.5 L531.0,24.5 L531.5,24.7 L532.0,24.9 L532.5,25.0 L533.0,25.0 L533.5,25.0 L534.0,25.2 L534.5,24.9 L535.0,24.7 L535.5,24.7 L536.0,25.5 L536.5,24.4 L537.0,25.0 L537.5,25.4 L538.0,25.1 L538.5,24.8 L539.0,25.0 L539.5,26.5 L540.0,32.9 L540.5,37.3 L541.0,36.8 L541.5,35.9 L542.0,35.3 L542.5,34.7 L543.0,33.6 L543.5,32.7 L544.0,32.6 L544.5,32.4 L545.0,31.7 L545.5,31.1 L546.0,31.3 L546.5,30.0 L547.0,30.1 L547.5,29.5 L548.0,29.3 L548.5,29.0 L549.0,29.1 L549.5,28.3 L550.0,28.1 L550.5,27.7 L551.0,28.0 L551.5,27.6 L552.0,27.6 L552.5,27.1 L553.0,27.1 L553.5,27.3 L554.0,26.9 L554.5,27.0 L555.0,26.9 L555.5,26.5 L556.0,26.1 L556.5,26.7 L557.0,26.4 L557.5,26.5 L558.0,25.7 L558.5,25.7 L559.0,25.5 L559.5,25.8 L560.0,26.2 L560.5,26.1 L561.0,25.9 L561.5,25.8 L562.0,26.0 L562.5,25.7 L563.0,25.8 L563.5,25.7 L564.0,25.1 L564.5,25.5 L565.0,25.9 L565.5,25.4 L566.0,25.5 L566.5,25.3 L567.0,25.3 L567.5,25.7 L568.0,25.3 L568.5,25.1 L569.0,24.6 L569.5,25.2 L570.0,24.9 L570.5,24.9 L571.0,25.5 L571.5,25.5 L572.0,24.8 L572.5,25.5 L573.0,25.4 L573.5,25.1 L574.0,25.4 L574.5,24.8 L575.0,24.9 L575.5,24.8 L576.0,24.9 L576.5,25.4 L577.0,24.8 L577.5,24.9 L578.0,24.9 L578.5,25.2 L579.0,25.1 L579.5,25.4 L580.0,25.0 L580.5,24.8 L581.0,25.0 L581.5,25.1 L582.0,24.9 L582.5,25.2 L583.0,25.6 L583.5,25.0 L584.0,25.1 L584.5,25.4 L585.0,24.9 L585.5,24.9 L586.0,24.8 L586.5,25.2 L587.0,25.2 L587.5,25.0 L588.0,25.1 L588.5,25.4 L589.0,25.3 L589.5,24.7 L590.0,25.1 L590.5,25.1 L591.0,25.2 L591.5,25.0 L592.0,24.9 L592.5,24.9 L593.0,24.6 L593.5,25.0 L594.0,24.9 L594.5,25.2 L595.0,24.8 L595.5,24.9 L596.0,24.8 L596.5,24.8 L597.0,25.2 L597.5,24.9 L598.0,25.1 L598.5,24.7 L599.0,25.0 L599.5,24.6 L600.0,24.9 L600.5,24.9 L601.0,25.2 L601.5,25.1 L602.0,25.0 L602.5,25.2 L603.0,25.1 L603.5,25.1 L604.0,25.2 L604.5,25.0 L605.0,24.9 L605.5,25.1 L606.0,24.9 L606.5,25.1 L607.0,25.3 L607.5,25.2 L608.0,24.9 L608.5,24.7 L609.0,25.0 L609.5,25.0 L610.0,25.3 L610.5,24.9 L611.0,24.9 L611.5,25.2 L612.0,24.9 L612.5,25.0 L613.0,25.4 L613.5,25.4 L614.0,25.2 L614.5,25.1 L615.0,24.8 L615.5,25.1 L616.0,25.0 L616.5,25.1 L617.0,24.9 L617.5,25.0 L618.0,24.9 L618.5,25.1 L619.0,25.4 L619.5,25.1 L620.0,24.6 L620.5,24.8 L621.0,24.6 L621.5,24.8 L622.0,25.1 L622.5,25.1 L623.0,24.8 L623.5,25.1 L624.0,24.8 L624.5,24.6 L625.0,24.6 L625.5,24.8 L626.0,25.3 L626.5,24.7 L627.0,25.3 L627.5,25.3 L628.0,24.9 L628.5,25.0 L629.0,24.8 L629.5,25.0 L630.0,25.2 L630.5,25.0 L631.0,25.2 L631.5,25.3 L632.0,25.1 L632.5,25.1 L633.0,25.0 L633.5,25.1 L634.0,24.7 L634.5,25.1 L635.0,25.0 L635.5,24.8 L636.0,25.5 L636.5,24.7 L637.0,24.8 L637.5,25.1 L638.0,24.5 L638.5,24.8 L639.0,24.6 L639.5,24.7 L640.0,25.0 L640.5,25.1 L641.0,25.3 L641.5,25.2 L642.0,25.3 L642.5,25.1 L643.0,24.9 L643.5,25.3 L644.0,24.9 L644.5,24.8 L645.0,25.4 L645.5,25.2 L646.0,25.0 L646.5,25.2 L647.0,25.2 L647.5,24.6 L648.0,25.0 L648.5,24.7 L649.0,25.0 L649.5,24.8 L650.0,25.3 L650.5,25.1 L651.0,24.8 L651.5,25.0 L652.0,24.7 L652.5,25.0 L653.0,25.1 L653.5,25.1 L654.0,24.5 L654.5,24.9 L655.0,25.1 L655.5,25.1 L656.0,25.3 L656.5,24.7 L657.0,25.1 L657.5,24.8 L658.0,25.0 L658.5,25.1 L659.0,25.2 L659.5,24.8 L660.0,25.0 L660.5,24.7 L661.0,24.6 L661.5,25.1 L662.0,25.0 L662.5,24.6 L663.0,24.8 L663.5,25.0 L664.0,25.4 L664.5,25.2 L665.0,25.2 L665.5,24.5 L666.0,25.0 L666.5,25.1 L667.0,25.1 L667.5,25.1 L668.0,24.9 L668.5,25.4 L669.0,25.4 L669.5,25.0 L670.0,24.7 L670.5,25.5 L671.0,24.8 L671.5,25.3 L672.0,25.5 L672.5,24.7 L673.0,25.1 L673.2,24.9" fill="none" stroke="#000" stroke-width="1.5" stroke-linejoin="round"/>
<rect x="74.4" y="1.3" width="598.0" height="281.7" fill="none" stroke="#5a5a5a" stroke-width="1.1"/>
<line x1="140.8" y1="283.0" x2="140.8" y2="276.5" stroke="#444" stroke-width="1.1"/>
<line x1="140.8" y1="1.3" x2="140.8" y2="7.8" stroke="#444" stroke-width="1.1"/>
<line x1="273.7" y1="283.0" x2="273.7" y2="276.5" stroke="#444" stroke-width="1.1"/>
<line x1="273.7" y1="1.3" x2="273.7" y2="7.8" stroke="#444" stroke-width="1.1"/>
<line x1="406.6" y1="283.0" x2="406.6" y2="276.5" stroke="#444" stroke-width="1.1"/>
<line x1="406.6" y1="1.3" x2="406.6" y2="7.8" stroke="#444" stroke-width="1.1"/>
<line x1="539.5" y1="283.0" x2="539.5" y2="276.5" stroke="#444" stroke-width="1.1"/>
<line x1="539.5" y1="1.3" x2="539.5" y2="7.8" stroke="#444" stroke-width="1.1"/>
<line x1="74.4" y1="25.1" x2="80.9" y2="25.1" stroke="#444" stroke-width="1.1"/>
<line x1="672.4" y1="25.1" x2="665.9" y2="25.1" stroke="#444" stroke-width="1.1"/>
<line x1="74.4" y1="95.5" x2="80.9" y2="95.5" stroke="#444" stroke-width="1.1"/>
<line x1="672.4" y1="95.5" x2="665.9" y2="95.5" stroke="#444" stroke-width="1.1"/>
<line x1="74.4" y1="165.8" x2="80.9" y2="165.8" stroke="#444" stroke-width="1.1"/>
<line x1="672.4" y1="165.8" x2="665.9" y2="165.8" stroke="#444" stroke-width="1.1"/>
<line x1="74.4" y1="236.2" x2="80.9" y2="236.2" stroke="#444" stroke-width="1.1"/>
<line x1="672.4" y1="236.2" x2="665.9" y2="236.2" stroke="#444" stroke-width="1.1"/>
<text transform="translate(67.0,33.2) scale(0.837,1)" font-size="23.4" text-anchor="end" >450</text>
<text transform="translate(67.0,103.6) scale(0.837,1)" font-size="23.4" text-anchor="end" >425</text>
<text transform="translate(67.0,173.9) scale(0.837,1)" font-size="23.4" text-anchor="end" >400</text>
<text transform="translate(67.0,244.3) scale(0.837,1)" font-size="23.4" text-anchor="end" >375</text>
<text transform="translate(74.4,312.3) scale(0.837,1)" font-size="23.4" text-anchor="middle" >0.15</text>
<text transform="translate(140.8,312.3) scale(0.837,1)" font-size="23.4" text-anchor="middle" >0.2</text>
<text transform="translate(273.7,312.3) scale(0.837,1)" font-size="23.4" text-anchor="middle" >0.3</text>
<text transform="translate(406.6,312.3) scale(0.837,1)" font-size="23.4" text-anchor="middle" >0.4</text>
<text transform="translate(539.5,312.3) scale(0.837,1)" font-size="23.4" text-anchor="middle" >0.5</text>
<text transform="translate(672.4,312.3) scale(0.837,1)" font-size="23.4" text-anchor="middle" >0.6</text>
<text transform="translate(373.4,338.9) scale(0.89,1)" font-size="22.3" text-anchor="middle" >Time (s)</text>
<text transform="translate(16.2,179.9) rotate(-90) scale(1.07,1)" font-size="22" font-style="italic">V</text>
<text transform="translate(29.7,164) rotate(-90) scale(1.3,1)" font-size="16.5" font-style="italic">dc</text>
<text transform="translate(16.2,138.3) rotate(-90) scale(1.14,1)" font-size="22" font-style="italic">(V)</text>
<rect x="87.2" y="194.1" width="276.1" height="76.50000000000003" fill="#fff" stroke="#333" stroke-width="1.1"/>
<line x1="91.8" x2="141.5" y1="208.3" y2="208.3" stroke="#00fa00" stroke-width="2.7"/>
<line x1="91.8" x2="141.5" y1="232.4" y2="232.4" stroke="#bd00bd" stroke-width="2.7"/>
<line x1="91.8" x2="141.5" y1="256.5" y2="256.5" stroke="#000" stroke-width="1.8"/>
<text transform="translate(146.2,216.0) scale(0.858,1)" font-size="20.5" text-anchor="start" >PI controller</text>
<text transform="translate(146.2,240.0) scale(0.87,1)" font-size="20.5" text-anchor="start" >Traditional ADRC method</text>
<text transform="translate(146.2,264.0) scale(0.864,1)" font-size="20.5" text-anchor="start" >Proposed FOADRC method</text>
</svg>
</body></html>
